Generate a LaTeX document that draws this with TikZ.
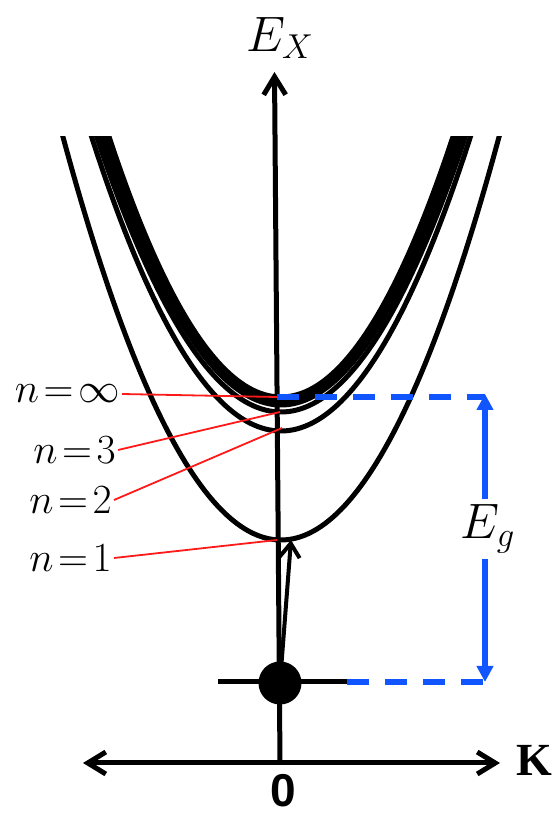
\documentclass[tikz,border=0pt]{standalone}
\usepackage{fontspec}
\setmainfont{Liberation Serif}
\setsansfont{Liberation Sans}
\usetikzlibrary{arrows.meta}
\definecolor{gapblue}{HTML}{1155FF}
\definecolor{leadred}{HTML}{FF1A1A}

\begin{document}
\begin{tikzpicture}[x=0.5pt,y=0.5pt,font=\fontsize{23}{27}\selectfont]
  \tikzstyle{axis}=[line width=2.5pt,-{Straight Barb[length=9pt,width=11pt]}]
  \tikzstyle{band}=[line width=2.5pt,domain=-28:28,samples=141]
  \tikzstyle{lead}=[leadred,line width=0.9pt]
  \tikzstyle{lbl}=[anchor=east,inner sep=1pt,font=\fontsize{21}{25}\selectfont,
    execute at begin node={\thickmuskip=2mu}]
  \tikzstyle{gapline}=[gapblue,line width=3pt,dash pattern=on 11pt off 8pt]
  \tikzstyle{gaparrow}=[gapblue,line width=3pt,-{Triangle[length=8pt,width=8pt]}]
  \useasboundingbox (0,0) rectangle (555,815);

  % exciton dispersion curves (x in units of 10)
  \begin{scope}
    \clip (0,0) rectangle (555,678);
    \draw[band] plot ({281+10*\x},{275+0.848*\x*\x}); % n=1
    \draw[band] plot ({281+10*\x},{384+0.82*\x*\x});  % n=2
    \draw[band] plot ({281+10*\x},{403+0.81*\x*\x});  % n=3
    \draw[band] plot ({281+10*\x},{410+0.83*\x*\x});
    \draw[band] plot ({281+10*\x},{414+0.85*\x*\x});
    \draw[band] plot ({281+10*\x},{418+0.88*\x*\x});  % n=inf
  \end{scope}

  % axes
  \coordinate (o) at (280,52);
  \coordinate (ytop) at (274.5,743);
  \coordinate (xl) at (83,52);
  \coordinate (xr) at (500,52);
  \draw[axis] (o) -- (ytop);
  \draw[axis,{Straight Barb[length=9pt,width=11pt]}-{Straight Barb[length=9pt,width=11pt]}] (xl) -- (xr);
  \node (ex) at (280,777) {$E_X$};
  \node (k) at (534,55) {\textbf{K}};
  \node[inner sep=0pt] (zero) at (283,24) {\textsf{\textbf{0}}};

  % ground state and excitation
  \coordinate (gl) at (218,133);
  \coordinate (gr) at (347,133);
  \coordinate (n1) at (291,275);
  \draw[line width=2.5pt] (gl) -- (gr);
  \draw[line width=2pt,-{Straight Barb[length=7pt,width=10pt]}] (280,132) -- (n1);
  \node[circle,fill,minimum size=21.5pt,inner sep=0pt] (dot) at (280,132) {};

  % gap
  \coordinate (ginf) at (277,418);
  \coordinate (gtop) at (485,418);
  \coordinate (gbot) at (485,133);
  \draw[gapline] (ginf) -- (gtop);
  \draw[gapline] (gr) -- (gbot);
  \node (eg) at (488,286) {$E_g$};
  \draw[gaparrow] (485,316) -- (485,421);
  \draw[gaparrow] (485,256) -- (gbot);

  % level labels
  \node[lbl] (linf) at (122,421) {$n=\infty$};
  \node[lbl] (l3) at (118,365) {$n=3$};
  \node[lbl] (l2) at (114,315) {$n=2$};
  \node[lbl] (l1) at (114,257) {$n=1$};
  \draw[lead] (linf.east) -- (ginf);
  \draw[lead] (l3.east) -- (280,403);
  \draw[lead] (l2.east) -- (282,387);
  \draw[lead] (l1.east) -- (277,275);
\end{tikzpicture}
\end{document}
